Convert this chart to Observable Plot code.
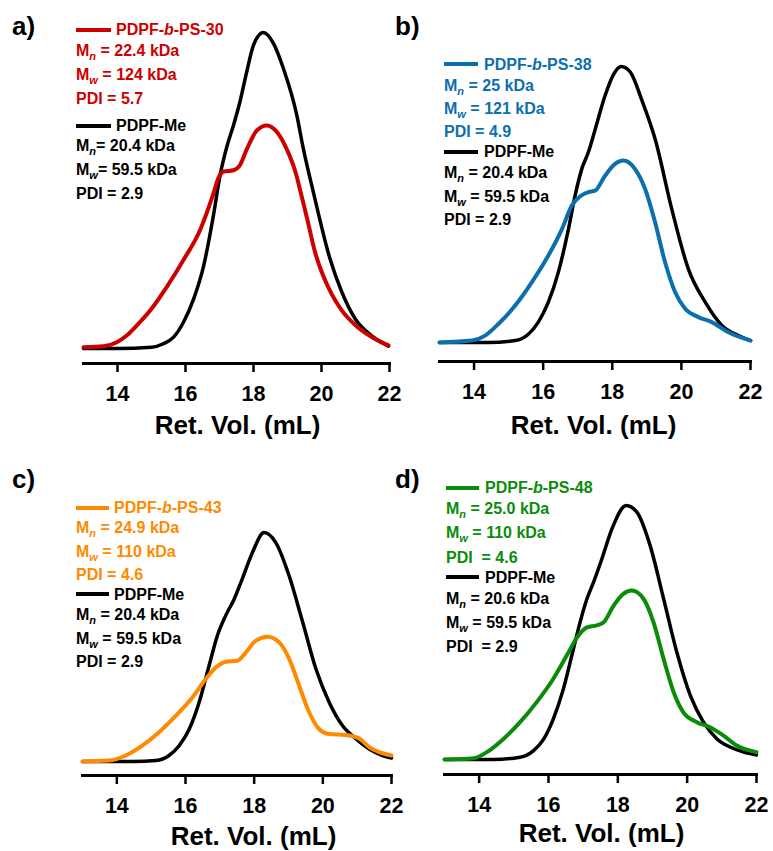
<!DOCTYPE html>
<html>
<head>
<meta charset="utf-8">
<script src="https://cdn.jsdelivr.net/npm/d3@7"></script>
<script src="https://cdn.jsdelivr.net/npm/@observablehq/plot@0.6"></script>
<style>
  body { margin: 0; background: #fff; }
  #root { position: relative; width: 773px; height: 851px; overflow: hidden; background: #fff;
          font-family: "Liberation Sans", Arial, sans-serif; }
</style>
</head>
<body>
<div id="root"></div>
<script>
// ---------------- DATA ----------------
const xTicks = [14, 16, 18, 20, 22];
const xLabel = "Ret. Vol. (mL)";
const panelTags = ["a)", "b)", "c)", "d)"];
const copolymerNames = ["PDPF-*b*-PS-30", "PDPF-*b*-PS-38", "PDPF-*b*-PS-43", "PDPF-*b*-PS-48"];
const homopolymerName = "PDPF-Me";
const copolymerStats = [
  ["M_n = 22.4 kDa", "M_w = 124 kDa", "PDI = 5.7"],
  ["M_n = 25 kDa", "M_w = 121 kDa", "PDI = 4.9"],
  ["M_n = 24.9 kDa", "M_w = 110 kDa", "PDI = 4.6"],
  ["M_n = 25.0 kDa", "M_w = 110 kDa", "PDI  = 4.6"]
];
const homopolymerStats = [
  ["M_n= 20.4 kDa", "M_w= 59.5 kDa", "PDI = 2.9"],
  ["M_n = 20.4 kDa", "M_w = 59.5 kDa", "PDI = 2.9"],
  ["M_n = 20.4 kDa", "M_w = 59.5 kDa", "PDI = 2.9"],
  ["M_n = 20.6 kDa", "M_w = 59.5 kDa", "PDI  = 2.9"]
];
const copolymerColors = ["#cc0000", "#0b6fae", "#ff8a00", "#0a8c0a"];

// Panel a
const retVolMeA = [13, 14, 15, 15.35, 15.65, 15.94, 16.24, 16.53, 16.82, 17.02, 17.22, 17.41, 17.6, 17.8, 18.0, 18.29, 18.59, 18.88, 19.27, 19.47, 19.76, 20.25, 20.6, 20.99, 21.53, 21.97];
const signalMeA = [0, 0, 0.004, 0.015, 0.036, 0.083, 0.157, 0.26, 0.42, 0.55, 0.64, 0.706, 0.78, 0.875, 0.96, 1.0, 0.965, 0.886, 0.74, 0.63, 0.495, 0.284, 0.178, 0.094, 0.036, 0.007];
const retVolCopA = [13, 13.59, 13.98, 14.27, 14.57, 14.96, 15.45, 15.94, 16.43, 16.82, 16.97, 17.12, 17.41, 17.6, 17.8, 18.1, 18.39, 18.69, 18.98, 19.23, 19.42, 19.59, 19.81, 20.05, 20.3, 20.6, 21.04, 21.5, 21.97];
const signalCopA = [0.004, 0.007, 0.02, 0.041, 0.073, 0.12, 0.195, 0.28, 0.375, 0.49, 0.54, 0.56, 0.564, 0.58, 0.63, 0.69, 0.706, 0.685, 0.63, 0.56, 0.48, 0.405, 0.305, 0.23, 0.172, 0.12, 0.07, 0.035, 0.01];

// Panel b
const retVolMeB = [13, 14.42, 15.19, 15.57, 15.86, 16.15, 16.44, 16.73, 16.92, 17.12, 17.31, 17.5, 17.79, 18.03, 18.26, 18.52, 18.85, 19.24, 19.72, 20.2, 20.69, 21.17, 21.65, 22];
const signalMeB = [0, 0, 0.007, 0.03, 0.074, 0.146, 0.255, 0.41, 0.53, 0.63, 0.69, 0.77, 0.894, 0.97, 1.0, 0.98, 0.88, 0.737, 0.484, 0.267, 0.146, 0.062, 0.025, 0.007];
const retVolCopB = [13, 13.94, 14.32, 14.71, 15.19, 15.67, 16.15, 16.54, 16.83, 17.07, 17.31, 17.5, 17.79, 18.08, 18.32, 18.66, 18.95, 19.24, 19.53, 19.82, 20.11, 20.49, 20.88, 21.36, 22];
const signalCopB = [0, 0.007, 0.025, 0.068, 0.134, 0.218, 0.315, 0.41, 0.496, 0.53, 0.545, 0.55, 0.604, 0.647, 0.659, 0.628, 0.556, 0.435, 0.29, 0.182, 0.122, 0.092, 0.074, 0.037, 0.007];

// Panel c
const retVolMeC = [13, 14.46, 15.14, 15.52, 15.82, 16.11, 16.4, 16.69, 16.93, 17.17, 17.42, 17.66, 17.95, 18.29, 18.63, 19.02, 19.41, 19.8, 20.18, 20.57, 20.96, 21.35, 21.74, 22];
const signalMeC = [0, 0, 0.004, 0.026, 0.07, 0.142, 0.26, 0.42, 0.55, 0.637, 0.71, 0.8, 0.913, 1.0, 0.956, 0.81, 0.61, 0.404, 0.26, 0.157, 0.1, 0.055, 0.026, 0.015];
const retVolCopC = [13, 13.78, 14.26, 14.75, 15.23, 15.72, 16.2, 16.59, 16.88, 17.17, 17.51, 17.76, 18.05, 18.39, 18.73, 19.02, 19.31, 19.6, 19.89, 20.18, 20.67, 21.06, 21.35, 21.74, 22];
const signalCopC = [0, 0.004, 0.026, 0.07, 0.128, 0.2, 0.28, 0.36, 0.41, 0.436, 0.44, 0.477, 0.528, 0.545, 0.52, 0.448, 0.331, 0.215, 0.142, 0.12, 0.116, 0.1, 0.063, 0.036, 0.026];

// Panel d
const retVolMeD = [13, 14.41, 15.18, 15.57, 15.86, 16.14, 16.43, 16.72, 16.91, 17.11, 17.3, 17.54, 17.83, 18.24, 18.55, 18.93, 19.32, 19.7, 20.09, 20.47, 20.86, 21.24, 21.63, 22];
const signalMeD = [0, 0, 0.009, 0.035, 0.08, 0.16, 0.278, 0.436, 0.54, 0.633, 0.698, 0.79, 0.908, 1.0, 0.974, 0.843, 0.633, 0.423, 0.252, 0.147, 0.081, 0.049, 0.029, 0.018];
const retVolCopD = [13, 13.84, 14.22, 14.7, 15.18, 15.66, 16.14, 16.53, 16.82, 17.11, 17.39, 17.59, 17.88, 18.16, 18.4, 18.74, 19.03, 19.32, 19.61, 19.89, 20.28, 20.66, 21.05, 21.43, 22];
const signalCopD = [0, 0.005, 0.029, 0.081, 0.147, 0.226, 0.318, 0.41, 0.48, 0.52, 0.528, 0.54, 0.606, 0.652, 0.665, 0.633, 0.54, 0.396, 0.265, 0.186, 0.147, 0.127, 0.094, 0.055, 0.029];

// ---------------- LAYOUT ----------------
const FONT = "'Liberation Sans', Arial, Helvetica, sans-serif";
const layouts = [
  {left: 0,   top: 0,   width: 420, height: 445, x13: 83,  x22: 389, axisY: 363, base: 348, peak: 32,  labelDx: 1,    labelDy: 70,
   tag: [12, 35], legX: 76, sw: [76, 111], nameX: 116, rows: [35, 56, 80, 104, 131, 151, 175, 199], swY: [30, 126]},
  {left: 390, top: 0,   width: 383, height: 445, x13: 439, x22: 750, axisY: 361, base: 342, peak: 66,  labelDx: -1.5, labelDy: 72,
   tag: [395, 35], legX: 444, sw: [444, 478], nameX: 484, rows: [70, 91, 114, 137, 157, 178, 202, 225], swY: [64, 152]},
  {left: 0,   top: 420, width: 420, height: 431, x13: 82,  x22: 391, axisY: 775, base: 761, peak: 532, labelDx: 16.5, labelDy: 69,
   tag: [12, 488], legX: 76, sw: [76, 109], nameX: 114, rows: [513, 533, 557, 580, 600, 620, 644, 667], swY: [508, 594]},
  {left: 390, top: 420, width: 383, height: 431, x13: 444, x22: 756, axisY: 774, base: 759, peak: 505, labelDx: 1,    labelDy: 67,
   tag: [395, 488], legX: 446, sw: [446, 479], nameX: 485, rows: [493, 514, 538, 563, 583, 604, 628, 652], swY: [488, 577]}
];

const series = [
  [retVolMeA, signalMeA, retVolCopA, signalCopA],
  [retVolMeB, signalMeB, retVolCopB, signalCopB],
  [retVolMeC, signalMeC, retVolCopC, signalCopC],
  [retVolMeD, signalMeD, retVolCopD, signalCopD]
];

const root = document.getElementById("root");

series.forEach(([xm, ym, xc, yc], i) => {
  const L = layouts[i];
  const me = xm.map((x, k) => ({x, y: ym[k]}));
  const cop = xc.map((x, k) => ({x, y: yc[k]}));
  const plot = Plot.plot({
    width: L.width,
    height: L.height,
    marginLeft: L.x13 - L.left,
    marginRight: L.left + L.width - L.x22,
    marginTop: 10,
    marginBottom: L.top + L.height - L.axisY,
    style: {fontFamily: FONT, background: "transparent", overflow: "visible", color: "#000"},
    x: {domain: [13, 22]},
    y: {domain: [0, 1], range: [L.base - L.top, L.peak - L.top], axis: null},
    marks: [
      Plot.line(me, {x: "x", y: "y", stroke: "#000", strokeWidth: 3.5, curve: "monotone-x"}),
      Plot.line(cop, {x: "x", y: "y", stroke: copolymerColors[i], strokeWidth: 4, curve: "monotone-x"}),
      Plot.frame({anchor: "bottom", stroke: "#000", strokeWidth: 3}),
      Plot.axisX({ticks: xTicks, tickSize: 9, tickPadding: 13, tickFormat: d => String(d),
                  fontSize: 21.5, fontWeight: "bold", strokeWidth: 2.5, label: null}),
      Plot.text([xLabel], {text: d => d, frameAnchor: "bottom", dx: L.labelDx, dy: L.labelDy,
                           lineAnchor: "bottom", fontSize: 26, fontWeight: "bold", fill: "#000"})
    ]
  });
  plot.style.position = "absolute";
  plot.style.left = L.left + "px";
  plot.style.top = L.top + "px";
  root.appendChild(plot);
});

// ---------------- LEGENDS / PANEL TAGS ----------------
function segs(s) {
  const out = [];
  const re = /(_\w)|(\*[^*]+\*)/g;
  let last = 0, m;
  while ((m = re.exec(s))) {
    if (m.index > last) out.push({t: s.slice(last, m.index)});
    if (m[1]) out.push({t: m[1].slice(1), sub: true});
    else out.push({t: m[2].slice(1, -1), it: true});
    last = re.lastIndex;
  }
  if (last < s.length) out.push({t: s.slice(last)});
  return out;
}

const overlay = d3.create("svg")
  .attr("width", 773).attr("height", 851)
  .style("position", "absolute").style("left", "0px").style("top", "0px")
  .style("pointer-events", "none")
  .style("font-family", FONT);

function row(x, y, color, str) {
  const t = overlay.append("text")
    .attr("x", x).attr("y", y)
    .attr("fill", color)
    .attr("font-size", 16).attr("font-weight", "bold")
    .style("white-space", "pre");
  let shifted = false;
  segs(str).forEach(sg => {
    const ts = t.append("tspan").text(sg.t);
    if (sg.sub) {
      ts.attr("font-size", 11).attr("font-style", "italic").attr("dy", 4);
      shifted = true;
    } else {
      if (sg.it) ts.attr("font-style", "italic");
      if (shifted) { ts.attr("dy", -4); shifted = false; }
    }
  });
}

layouts.forEach((L, i) => {
  const c = copolymerColors[i];
  overlay.append("text").attr("x", L.tag[0]).attr("y", L.tag[1])
    .attr("font-size", 26).attr("font-weight", "bold").attr("fill", "#000").text(panelTags[i]);
  overlay.append("line").attr("x1", L.sw[0]).attr("x2", L.sw[1]).attr("y1", L.swY[0]).attr("y2", L.swY[0])
    .attr("stroke", c).attr("stroke-width", 4);
  row(L.nameX, L.rows[0], c, copolymerNames[i]);
  copolymerStats[i].forEach((s, k) => row(L.legX, L.rows[1 + k], c, s));
  overlay.append("line").attr("x1", L.sw[0]).attr("x2", L.sw[1]).attr("y1", L.swY[1]).attr("y2", L.swY[1])
    .attr("stroke", "#000").attr("stroke-width", 4);
  row(L.nameX, L.rows[4], "#000", homopolymerName);
  homopolymerStats[i].forEach((s, k) => row(L.legX, L.rows[5 + k], "#000", s));
});

root.appendChild(overlay.node());
</script>
</body>
</html>
